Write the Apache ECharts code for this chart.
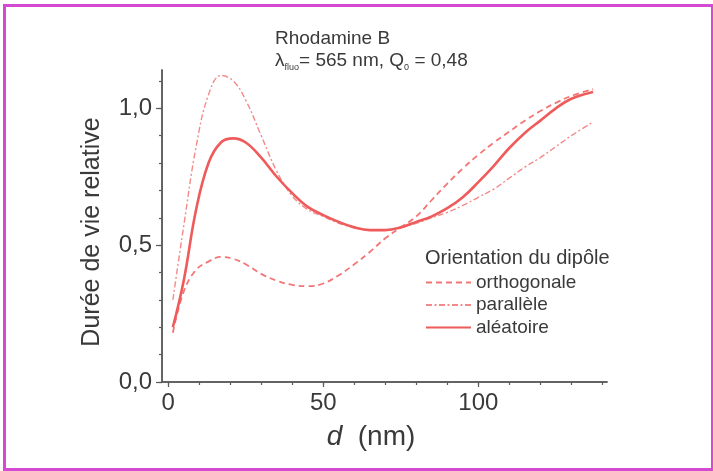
<!DOCTYPE html>
<html><head><meta charset="utf-8">
<script src="https://cdn.jsdelivr.net/npm/echarts@6/dist/echarts.min.js"></script>
<style>html,body{margin:0;padding:0;background:#fff}#c{width:713px;height:471px}</style>
</head><body><div id="c"></div>
<script>
// distance d (nm)
const dValues = [1.5, 5, 9, 13, 17, 21, 25, 30, 35, 40, 45, 50, 55, 60, 65, 70, 75, 80, 85, 90, 95, 100, 105, 110, 115, 120, 125, 130, 137];
// relative lifetime per dipole orientation
const orthogonale = [0.18, 0.33, 0.41, 0.44, 0.457, 0.45, 0.43, 0.395, 0.37, 0.355, 0.35, 0.36, 0.39, 0.43, 0.475, 0.525, 0.565, 0.605, 0.665, 0.725, 0.78, 0.83, 0.875, 0.915, 0.955, 0.99, 1.02, 1.045, 1.07];
const parallele   = [0.30, 0.57, 0.86, 1.05, 1.12, 1.10, 1.03, 0.90, 0.77, 0.68, 0.63, 0.605, 0.58, 0.565, 0.555, 0.555, 0.565, 0.58, 0.60, 0.62, 0.645, 0.675, 0.705, 0.745, 0.785, 0.82, 0.86, 0.90, 0.95];
const aleatoire   = [0.20, 0.37, 0.63, 0.80, 0.875, 0.89, 0.875, 0.82, 0.75, 0.69, 0.64, 0.61, 0.585, 0.565, 0.555, 0.555, 0.565, 0.585, 0.605, 0.635, 0.675, 0.73, 0.79, 0.855, 0.91, 0.955, 1.0, 1.035, 1.06];
const seriesNames = ['orthogonale', 'parallèle', 'aléatoire'];
const xMinorTicks = [0, 10, 20, 30, 40, 50, 60, 70, 80, 90, 100, 110, 120, 130, 140];
const xMajorTicks = [0, 50, 100];
const yMinorTicks = [0, 0.1, 0.2, 0.3, 0.4, 0.5, 0.6, 0.7, 0.8, 0.9, 1.0, 1.1];
const yMajorTicks = [0, 0.5, 1.0];

const pairs = ys => dValues.map((d, i) => [d, ys[i]]);
const FONT = "'Liberation Sans', Arial, sans-serif";
const AX = '#5a5a5a';
const TXT = '#3a3a3a';
const fmt = v => v.toFixed(1).replace('.', ',');

const chart = echarts.init(document.getElementById('c'));
const xBase = {type: 'value', min: -2, max: 141.5, position: 'bottom', splitLine: {show: false},
  axisLine: {onZero: false, lineStyle: {color: AX, width: 1.5}}};
const yBase = {type: 'value', min: 0, max: 1.14, position: 'left', splitLine: {show: false},
  axisLine: {onZero: false, lineStyle: {color: AX, width: 1.5}}};
chart.setOption({
  backgroundColor: '#fff',
  animation: false,
  grid: {left: 162, right: 106, top: 70, bottom: 89},
  xAxis: [
    Object.assign({}, xBase, {axisTick: {customValues: xMinorTicks, length: 3, lineStyle: {color: AX, width: 1.2}},
      axisLabel: {show: false}}),
    Object.assign({}, xBase, {axisTick: {customValues: xMajorTicks, length: 5, lineStyle: {color: AX, width: 1.2}},
      axisLabel: {customValues: xMajorTicks, margin: 9, fontSize: 24, color: TXT, fontFamily: FONT}})
  ],
  yAxis: [
    Object.assign({}, yBase, {axisTick: {customValues: yMinorTicks, length: 3, lineStyle: {color: AX, width: 1.2}},
      axisLabel: {show: false}}),
    Object.assign({}, yBase, {axisTick: {customValues: yMajorTicks, length: 6, lineStyle: {color: AX, width: 1.2}},
      axisLabel: {customValues: yMajorTicks, margin: 10, fontSize: 24, color: TXT, fontFamily: FONT, formatter: fmt}})
  ],
  legend: {
    orient: 'vertical', left: 425, top: 273, itemWidth: 45, itemHeight: 12, itemGap: 3.5, padding: 0,
    itemStyle: {opacity: 0},
    textStyle: {fontSize: 19, color: TXT, fontFamily: FONT},
    data: seriesNames
  },
  series: [
    {name: seriesNames[0], type: 'line', smooth: 0.4, symbol: 'none', data: pairs(orthogonale),
      lineStyle: {color: '#f27676', width: 1.8, type: [6, 4]}, itemStyle: {color: '#f27676'}},
    {name: seriesNames[1], type: 'line', smooth: 0.4, symbol: 'none', data: pairs(parallele),
      lineStyle: {color: '#f38a8a', width: 1.4, type: [6, 2.5, 2, 2.5]}, itemStyle: {color: '#f38a8a'}},
    {name: seriesNames[2], type: 'line', smooth: 0.4, symbol: 'none', data: pairs(aleatoire),
      lineStyle: {color: '#ef5b5b', width: 2.6}, itemStyle: {color: '#ef5b5b'}}
  ],
  graphic: [
    {type: 'rect', left: 2, top: 3, shape: {width: 708, height: 464}, silent: true, z: 100,
      style: {fill: 'none', stroke: '#d54ad2', lineWidth: 3}},
    {type: 'text', left: 275, top: 29, style: {text: 'Rhodamine B', fontSize: 19, fill: TXT, fontFamily: FONT}},
    {type: 'text', left: 275, top: 50, style: {
      text: 'λ{sub|fluo}= 565 nm, Q{sub|0} = 0,48', fontSize: 19, fill: TXT, fontFamily: FONT, lineHeight: 22,
      rich: {sub: {fontSize: 9, fill: TXT, fontFamily: FONT, verticalAlign: 'bottom', lineHeight: 22, padding: [10, 0, 0, 0]}}}},
    {type: 'text', left: 425, top: 248, style: {text: 'Orientation du dipôle', fontSize: 20, fill: TXT, fontFamily: FONT}},
    {type: 'text', x: 92, y: 232, rotation: Math.PI / 2, style: {text: 'Durée de vie relative', fontSize: 25,
      fill: TXT, fontFamily: FONT, align: 'center', verticalAlign: 'middle'}},
    {type: 'text', x: 371, y: 437, style: {text: '{i|d}  (nm)', fontSize: 28, fill: TXT, fontFamily: FONT,
      align: 'center', verticalAlign: 'middle', rich: {i: {fontStyle: 'italic', fontSize: 28, fill: TXT, fontFamily: FONT}}}}
  ]
});
</script></body></html>
